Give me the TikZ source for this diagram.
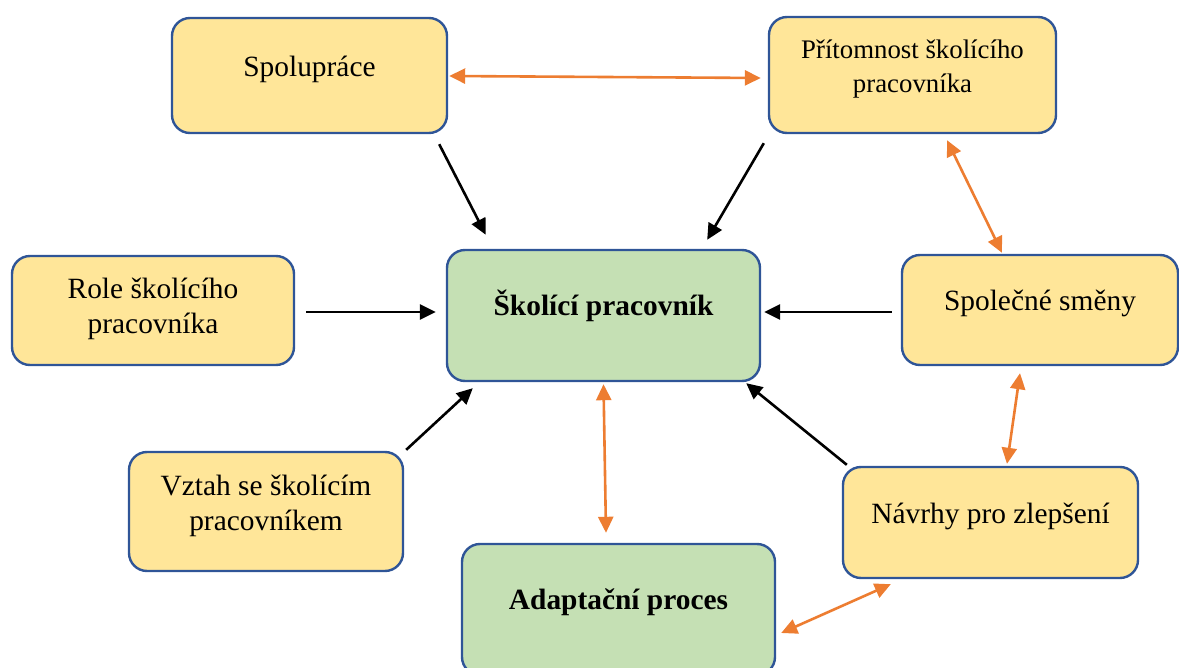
\documentclass[tikz,border=0pt]{standalone}
\usepackage{fontspec}
\setmainfont{Liberation Serif}
\usepackage{tikz}
\usetikzlibrary{calc}
\usetikzlibrary{arrows.meta}

\definecolor{boxYellow}{HTML}{FFE699}
\definecolor{boxGreen}{HTML}{C5E0B4}
\definecolor{boxBorder}{HTML}{2F5597}
\definecolor{arrOrange}{HTML}{ED7D31}

\begin{document}
\begin{tikzpicture}[x=0.5pt,y=-0.5pt,>={Triangle[length=8pt,width=7.5pt]},
		box/.style={rectangle,rounded corners=9pt,draw=boxBorder,line width=1.2pt,inner sep=0pt},
		ybox/.style={box,fill=boxYellow},
		gbox/.style={box,fill=boxGreen},
		txt/.style={align=center,inner sep=0pt,font=\fontsize{14.7}{17.5}\selectfont},
		blk/.style={draw=black,line width=1.3pt,->},
		org/.style={draw=arrOrange,line width=1.3pt,<->}]
		\useasboundingbox (0,0) rectangle (1179,668);
		\clip (0,0) rectangle (1179,668);
		
		\node[ybox,minimum width=137.5pt,minimum height=57.5pt] (spol)   at (309.5,75.5)  {};
		\node[ybox,minimum width=143.5pt,minimum height=58pt]   (prit)   at (912.5,75)    {};
		\node[ybox,minimum width=141pt,minimum height=54.5pt]   (role)   at (153,310.5)   {};
		\node[gbox,minimum width=156.5pt,minimum height=65.5pt] (skol)   at (603.5,315.5) {};
		\node[ybox,minimum width=138pt,minimum height=55pt]     (spolec) at (1040,310)    {};
		\node[ybox,minimum width=137pt,minimum height=59.5pt]   (vztah)  at (266,511.5)   {};
		\node[ybox,minimum width=147.5pt,minimum height=55.5pt] (navrhy) at (990.5,522.5) {};
		\node[gbox,minimum width=156.5pt,minimum height=65.5pt] (adapt)  at (618.5,609.5) {};
		
		% texts
		\node[txt,anchor=base] (spolT) at ([yshift=-0.5pt]spol.center) {Spolupráce};
		\node[txt,font=\fontsize{13.4}{16.7}\selectfont] (pritT) at ([yshift=3pt]prit.center) {Přítomnost školícího\\pracovníka};
		\node[txt] (roleT) at ([yshift=0.6pt]role.center) {Role školícího\\pracovníka};
		\node[txt,anchor=base] (skolT) at (skol.center) {\textbf{Školící pracovník}};
		\node[txt,anchor=base] (spolecT) at ([yshift=-0.5pt]spolec.center) {Společné směny};
		\node[txt] (vztahT) at ([yshift=3pt]vztah.center) {Vztah se školícím\\pracovníkem};
		\node[txt,anchor=base] (navrhyT) at ([yshift=-0.3pt]navrhy.center) {Návrhy pro zlepšení};
		\node[txt,anchor=base] (adaptT) at (adapt.center) {\textbf{Adaptační proces}};
		
		\draw[blk] ($(spol.south east)+(-9,10)$) -- ($(skol.north west)+(40,-14)$);
		\draw[blk] ($(prit.south west)+(-4,9)$) -- ($(skol.north east)+(-54,-9)$);
		\draw[blk] ($(role.east)+(11,1.5)$) -- ($(skol.west)+(-10,-3.5)$);
		\draw[blk] ($(spolec.west)+(-9,2)$) -- ($(skol.east)+(3,-3.5)$);
		\draw[blk] ($(vztah.north east)+(2,-1)$) -- ($(skol.south west)+(27,6)$);
		\draw[blk] ($(navrhy.north west)+(5,-1)$) -- ($(skol.south east)+(-15,1)$);
		
		\draw[org] ($(spol.east)+(1,0.5)$) -- ($(prit.west)+(-7,3)$);
		\draw[org] ($(prit.south)+(34.5,6)$) -- ($(spolec.north)+(-38,-1)$);
		\draw[org] ($(spolec.south)+(-20,7)$) -- ($(navrhy.north)+(16.5,-2)$);
		\draw[org] ($(skol.south)+(0,2)$) -- ($(adapt.north)+(-12.5,-10)$);
		\draw[org] ($(navrhy.south west)+(49,5)$) -- ($(adapt.east)+(5,23.5)$);
\end{tikzpicture}
\end{document}
